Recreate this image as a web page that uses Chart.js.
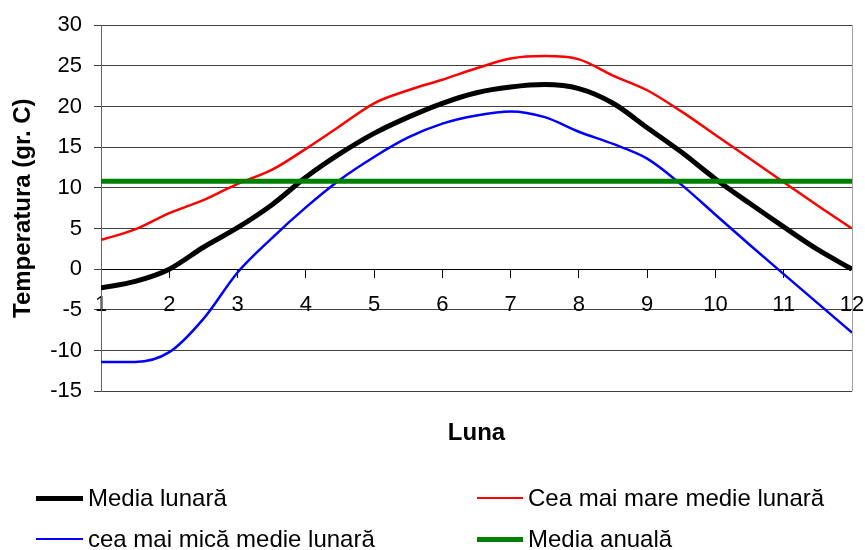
<!DOCTYPE html>
<html lang="ro">
<head>
<meta charset="utf-8">
<title>Temperatura lunară</title>
<script src="https://cdn.jsdelivr.net/npm/chart.js@4.4.1/dist/chart.umd.min.js"></script>
<style>
  html, body { margin: 0; padding: 0; background: #fff; }
  #wrap { position: relative; width: 865px; height: 550px; }
  #legend { position: absolute; left: 0; top: 0; width: 865px; height: 550px; pointer-events: none;
            font-family: "Liberation Sans", Arial, sans-serif; font-size: 24px; color: #000; }
  .item { position: absolute; display: flex; align-items: center; height: 30px; white-space: nowrap; }
  .swatch { display: inline-block; margin-right: 5px; }
</style>
</head>
<body>
<div id="wrap">
  <canvas id="grafic" width="865" height="550"></canvas>
  <div id="legend"></div>
</div>
<script>
// luna (pas de jumatate de luna)
const luni = [1, 1.5, 2, 2.5, 3, 3.5, 4, 4.5, 5, 5.5, 6, 6.5, 7, 7.5, 8, 8.5, 9, 9.5, 10, 10.5, 11, 11.5, 12];

const mediaLunara = [-2.3, -1.5, 0.0, 2.7, 5.1, 7.9, 11.3, 14.2, 16.7, 18.7, 20.4, 21.7,
                     22.4, 22.7, 22.2, 20.4, 17.4, 14.4, 11.1, 8.1, 5.2, 2.4, 0.0];
const maxLunara   = [3.6, 4.9, 6.9, 8.5, 10.5, 12.2, 14.8, 17.6, 20.4, 22.0, 23.3, 24.7,
                     25.9, 26.2, 25.8, 23.8, 22.0, 19.4, 16.5, 13.6, 10.7, 7.8, 5.0];
const minLunara   = [-11.4, -11.4, -10.2, -6.1, -0.4, 3.8, 7.6, 11.0, 13.8, 16.2, 17.9, 18.9,
                     19.4, 18.7, 16.9, 15.4, 13.6, 10.4, 6.7, 3.0, -0.6, -4.2, -7.8];
const mediaAnuala = 10.8;

const font = '"Liberation Sans", Arial, sans-serif';
Chart.defaults.font.family = font;
Chart.defaults.color = '#000';

function puncte(vals) {
  return luni.map((m, i) => ({ x: m, y: vals[i] }));
}

// chenar gri in dreapta zonei de desen
const chenar = {
  id: 'chenar',
  beforeDatasetsDraw(chart) {
    const { ctx, chartArea: a } = chart;
    ctx.save();
    ctx.strokeStyle = '#a0a0a0';
    ctx.lineWidth = 1;
    ctx.beginPath();
    const x = Math.round(a.right) + 0.5;
    ctx.moveTo(x, a.top);
    ctx.lineTo(x, a.bottom);
    ctx.stroke();
    ctx.restore();
  }
};

const chart = new Chart(document.getElementById('grafic'), {
  type: 'line',
  data: {
    datasets: [
      { label: 'Media lunară', data: puncte(mediaLunara), borderColor: '#000000', borderWidth: 5, order: 4 },
      { label: 'Cea mai mare medie lunară', data: puncte(maxLunara), borderColor: '#ff0000', borderWidth: 2.5, order: 3 },
      { label: 'cea mai mică medie lunară', data: puncte(minLunara), borderColor: '#0000ff', borderWidth: 2.5, order: 2 },
      { label: 'Media anuală', data: luni.map(m => ({ x: m, y: mediaAnuala })), borderColor: '#008000', borderWidth: 5, order: 1 }
    ]
  },
  options: {
    responsive: false,
    animation: false,
    elements: {
      point: { radius: 0 },
      line: { cubicInterpolationMode: 'monotone', fill: false }
    },
    layout: { padding: { left: 0, right: 13, top: 25, bottom: 102 } },
    scales: {
      x: {
        type: 'linear',
        position: { y: 0 },
        min: 1,
        max: 12,
        ticks: { stepSize: 1, font: { size: 22 }, padding: 15, color: '#000' },
        grid: { drawOnChartArea: false, drawTicks: true, tickLength: 8, color: '#000' },
        border: { color: '#000', width: 1 },
        afterFit(scale) { scale.paddingLeft = 0; scale.paddingRight = 0; }
      },
      y: {
        position: 'left',
        min: -15,
        max: 30,
        ticks: { stepSize: 5, font: { size: 22 }, padding: 12, color: '#000' },
        grid: { color: '#404040', tickLength: 7 },
        border: { color: '#666', width: 1 },
        title: {
          display: true,
          text: 'Temperatura (gr. C)',
          font: { size: 24, weight: 'bold' },
          padding: { top: 9, bottom: 0 },
          color: '#000'
        },
        afterFit(scale) { scale.width = 101; }
      }
    },
    plugins: {
      legend: { display: false },
      tooltip: { enabled: false },
      title: {
        display: true,
        text: 'Luna',
        position: 'bottom',
        fullSize: false,
        font: { size: 24, weight: 'bold' },
        color: '#000',
        padding: { top: 28, bottom: 0 }
      }
    }
  },
  plugins: [chenar]
});

// legenda pe doua coloane, ca in original
const pozitii = [[36, 483], [477, 483], [36, 524], [477, 524]];
const legend = document.getElementById('legend');
chart.data.datasets.forEach((ds, i) => {
  const item = document.createElement('div');
  item.className = 'item';
  item.style.left = pozitii[i][0] + 'px';
  item.style.top = pozitii[i][1] + 'px';
  const sw = document.createElement('span');
  sw.className = 'swatch';
  sw.style.width = (i % 2 === 0 ? 47 : 46) + 'px';
  sw.style.height = ds.borderWidth + 'px';
  sw.style.background = ds.borderColor;
  const txt = document.createElement('span');
  txt.textContent = ds.label;
  item.appendChild(sw);
  item.appendChild(txt);
  legend.appendChild(item);
});
</script>
</body>
</html>
